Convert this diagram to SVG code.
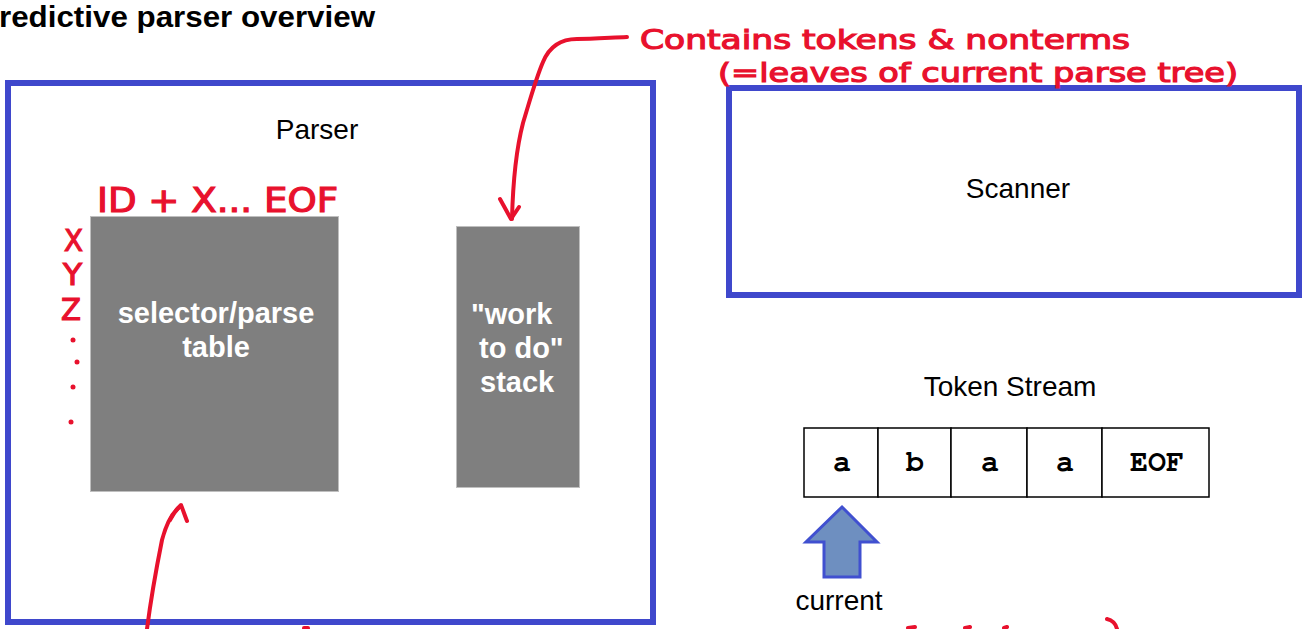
<svg xmlns="http://www.w3.org/2000/svg" width="1304" height="629" viewBox="0 0 1304 629">
<style>
  .box{fill:#fff;stroke:#3F48CC;stroke-width:6}
  .gray{fill:#7F7F7F;stroke:#BFBFBF;stroke-width:1}
  .lbl{font-family:"Liberation Sans",Arial,sans-serif;font-size:28px;fill:#000}
  .wlbl{font-family:"Liberation Sans",Arial,sans-serif;font-size:29px;font-weight:bold;fill:#fff}
  .cell{fill:#fff;stroke:#000;stroke-width:1.5}
  .tok{font-family:"Nimbus Mono PS","Nimbus Mono L",FreeMono,"Courier New","Liberation Mono",monospace;font-size:30px;font-weight:bold;fill:#000;text-anchor:middle}
  .ink{fill:none;stroke:#E8112D;stroke-width:4;stroke-linecap:round;stroke-linejoin:round}
  .hw{font-family:"DejaVu Sans",sans-serif;fill:#E8112D;stroke:#E8112D;stroke-width:1.2}
</style>
<rect width="1304" height="629" fill="#fff"/>
<text x="-1" y="27" font-family="Liberation Sans,Arial,sans-serif" font-weight="bold" font-size="30" textLength="376" lengthAdjust="spacingAndGlyphs">redictive parser overview</text>

<g id="parser">
  <rect class="box" x="8" y="83" width="645" height="539"/>
  <text class="lbl" x="317" y="139" text-anchor="middle">Parser</text>
</g>
<g id="parse-table">
  <rect class="gray" x="90.5" y="216.5" width="248" height="275"/>
  <text class="wlbl" x="216" y="323" text-anchor="middle">selector/parse</text>
  <text class="wlbl" x="216" y="357" text-anchor="middle">table</text>
</g>
<g id="stack">
  <rect class="gray" x="456.5" y="226.5" width="123" height="261"/>
  <text class="wlbl" x="471" y="324">"work</text>
  <text class="wlbl" x="479" y="358">to do"</text>
  <text class="wlbl" x="480" y="392">stack</text>
</g>
<g id="scanner">
  <rect class="box" x="729" y="88" width="570" height="207"/>
  <text class="lbl" x="1018" y="198" text-anchor="middle" font-size="29">Scanner</text>
</g>
<g id="token-stream">
  <text class="lbl" x="1010" y="396" text-anchor="middle" font-size="29">Token Stream</text>
  <rect class="cell" x="804" y="428" width="74" height="69"/>
  <rect class="cell" x="878" y="428" width="73" height="69"/>
  <rect class="cell" x="951" y="428" width="76" height="69"/>
  <rect class="cell" x="1027" y="428" width="75" height="69"/>
  <rect class="cell" x="1102" y="428" width="107" height="69"/>
  <text class="tok" x="842" y="471">a</text>
  <text class="tok" x="915" y="471">b</text>
  <text class="tok" x="990" y="471">a</text>
  <text class="tok" x="1065" y="471">a</text>
  <text class="tok" x="1157" y="471">EOF</text>
</g>
<g id="current-pointer">
  <polygon points="842,507 877,542 860,542 860,577 824,577 824,542 806,542" fill="#6E8FC0" stroke="#4050D0" stroke-width="3" stroke-linejoin="miter"/>
  <text class="lbl" x="839" y="610" text-anchor="middle" font-size="29">current</text>
</g>

<g id="connectors">
  <path class="ink" d="M627,37 C605,38 590,39 577,39 C562,39 550,45 543,62 C536,78 530,100 523,123 C516,150 513,180 512,219"/>
  <path class="ink" d="M500,199 L511,219 L519,207"/>
  <path class="ink" d="M147,629 C152,590 158,560 162,540 C166,525 172,512 181,506"/>
  <path class="ink" d="M170,520 C173,514 177,509 181,505 C183,510 185,516 187,521"/>
</g>

<g id="annotations">
  <text class="hw" x="640" y="49" font-size="27" textLength="490" lengthAdjust="spacingAndGlyphs">Contains tokens &amp; nonterms</text>
  <text class="hw" x="718" y="82" font-size="27" textLength="520" lengthAdjust="spacingAndGlyphs">(=leaves of current parse tree)</text>
  <text class="hw" x="97" y="212" font-size="34" textLength="241" lengthAdjust="spacingAndGlyphs">ID + X... EOF</text>
  <text class="hw" x="64" y="251" font-size="30" textLength="19" lengthAdjust="spacingAndGlyphs">X</text>
  <text class="hw" x="63" y="285" font-size="30" textLength="19" lengthAdjust="spacingAndGlyphs">Y</text>
  <text class="hw" x="61" y="320" font-size="30" textLength="20" lengthAdjust="spacingAndGlyphs">Z</text>
  <circle cx="73" cy="340" r="2.5" fill="#E8112D"/>
  <circle cx="77" cy="362" r="2.5" fill="#E8112D"/>
  <circle cx="73" cy="387" r="2.5" fill="#E8112D"/>
  <circle cx="71" cy="422" r="2.5" fill="#E8112D"/>
  <path class="ink" d="M304,628 L308,628 M908,628 L915,627 M965,628 L970,627 M1004,628 L1007,627 M1107,619 C1112,620 1116,624 1117,629"/>
</g>
</svg>
